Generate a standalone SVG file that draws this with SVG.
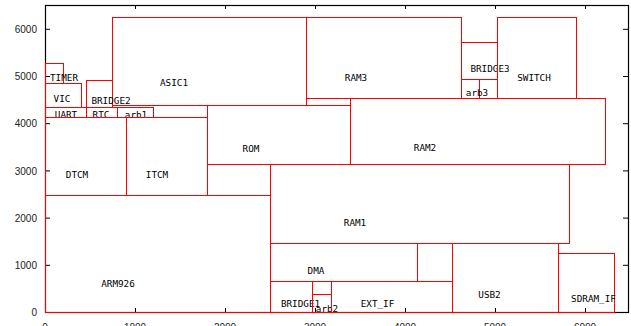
<svg xmlns="http://www.w3.org/2000/svg" width="631" height="326" viewBox="0 0 631 326">
<style>
.b{fill:none;stroke:#ff0000;stroke-width:1}
.t{font-family:"DejaVu Sans Mono","Liberation Mono",monospace;font-size:9.3px;fill:#000;text-anchor:middle}
.ax{font-family:"Liberation Sans",Arial,sans-serif;font-size:10px;fill:#222}
.tk{stroke:#000;stroke-width:1}
</style>
<rect x="0" y="0" width="631" height="326" fill="#fff"/>
<g id="axes">
<rect x="45.5" y="5.5" width="583" height="307" fill="none" stroke="#000" stroke-width="1.2"/>
<g class="tk">
<path d="M45 265.3h5M45 218.1h5M45 170.9h5M45 123.7h5M45 76.5h5M45 29.3h5"/>
<path d="M628 265.3h-5M628 218.1h-5M628 170.9h-5M628 123.7h-5M628 76.5h-5M628 29.3h-5"/>
<path d="M135.5 312v-4M225.5 312v-4M315.5 312v-4M405.5 312v-4M495.5 312v-4M585.5 312v-4"/>
<path d="M135.5 5v4M225.5 5v4M315.5 5v4M405.5 5v4M495.5 5v4M585.5 5v4"/>
</g>
<g class="ax" text-anchor="end">
<text x="37" y="316">0</text>
<text x="37" y="269">1000</text>
<text x="37" y="222">2000</text>
<text x="37" y="175">3000</text>
<text x="37" y="127">4000</text>
<text x="37" y="80">5000</text>
<text x="37" y="33">6000</text>
</g>
<g class="ax" text-anchor="middle">
<text x="45" y="331">0</text>
<text x="135" y="331">1000</text>
<text x="225" y="331">2000</text>
<text x="315" y="331">3000</text>
<text x="405" y="331">4000</text>
<text x="495" y="331">5000</text>
<text x="585" y="331">6000</text>
</g>
</g>
<g id="connectors"></g>
<g id="ARM926"><rect class="b" x="45.5" y="195.5" width="225" height="117"/><text class="t" x="118" y="287">ARM926</text></g>
<g id="DTCM"><rect class="b" x="45.5" y="117.5" width="81" height="78"/><text class="t" x="77" y="178">DTCM</text></g>
<g id="ITCM"><rect class="b" x="126.5" y="117.5" width="81" height="78"/><text class="t" x="157" y="178">ITCM</text></g>
<g id="ROM"><rect class="b" x="207.5" y="105.5" width="143" height="59"/><text class="t" x="251" y="152">ROM</text></g>
<g id="gap1"><rect class="b" x="207.5" y="164.5" width="63" height="31"/></g>
<g id="RAM2"><rect class="b" x="350.5" y="98.5" width="255" height="66"/><text class="t" x="425" y="151">RAM2</text></g>
<g id="RAM1"><rect class="b" x="270.5" y="164.5" width="299" height="79"/><text class="t" x="355" y="226">RAM1</text></g>
<g id="ASIC1"><rect class="b" x="112.5" y="17.5" width="194" height="88"/><text class="t" x="174" y="86">ASIC1</text></g>
<g id="RAM3"><rect class="b" x="306.5" y="17.5" width="155" height="81"/><text class="t" x="356" y="81">RAM3</text></g>
<g id="BRIDGE3"><rect class="b" x="461.5" y="42.5" width="36" height="37"/><text class="t" x="490" y="72">BRIDGE3</text></g>
<g id="arb3"><rect class="b" x="461.5" y="79.5" width="36" height="19"/><path class="b" d="M479.5 79.5V98.5"/><text class="t" x="477" y="96">arb3</text></g>
<g id="SWITCH"><rect class="b" x="497.5" y="17.5" width="79" height="81"/><text class="t" x="534" y="81">SWITCH</text></g>
<g id="TIMER"><rect class="b" x="45.5" y="63.5" width="18" height="20"/><text class="t" x="64" y="81">TIMER</text></g>
<g id="VIC"><rect class="b" x="45.5" y="83.5" width="36" height="24"/><text class="t" x="62" y="102">VIC</text></g>
<g id="BRIDGE2"><rect class="b" x="86.5" y="80.5" width="26" height="27"/><text class="t" x="111" y="104">BRIDGE2</text></g>
<g id="UART"><text class="t" x="66" y="118">UART</text><rect class="b" x="45.5" y="107.5" width="41" height="10"/></g>
<g id="RTC"><text class="t" x="101" y="118">RTC</text><rect class="b" x="86.5" y="107.5" width="31" height="10"/></g>
<g id="arb1"><text class="t" x="136" y="118">arb1</text><rect class="b" x="117.5" y="107.5" width="36" height="10"/></g>
<g id="DMA"><rect class="b" x="270.5" y="243.5" width="147" height="38"/><text class="t" x="316" y="274">DMA</text></g>
<g id="gap2"><rect class="b" x="417.5" y="243.5" width="35" height="38"/></g>
<g id="USB2"><rect class="b" x="452.5" y="243.5" width="106" height="69"/><text class="t" x="489.5" y="298">USB2</text></g>
<g id="SDRAM_IF"><rect class="b" x="558.5" y="253.5" width="56" height="59"/><text class="t" x="593.5" y="302">SDRAM_IF</text></g>
<g id="BRIDGE1"><rect class="b" x="270.5" y="281.5" width="42" height="31"/><text class="t" x="300.5" y="307">BRIDGE1</text></g>
<g id="gap3"><rect class="b" x="312.5" y="281.5" width="19" height="13"/></g>
<g id="arb2"><rect class="b" x="312.5" y="294.5" width="19" height="18"/><text class="t" x="327" y="312">arb2</text></g>
<g id="EXT_IF"><rect class="b" x="331.5" y="281.5" width="121" height="31"/><text class="t" x="377.5" y="307">EXT_IF</text></g>
</svg>
